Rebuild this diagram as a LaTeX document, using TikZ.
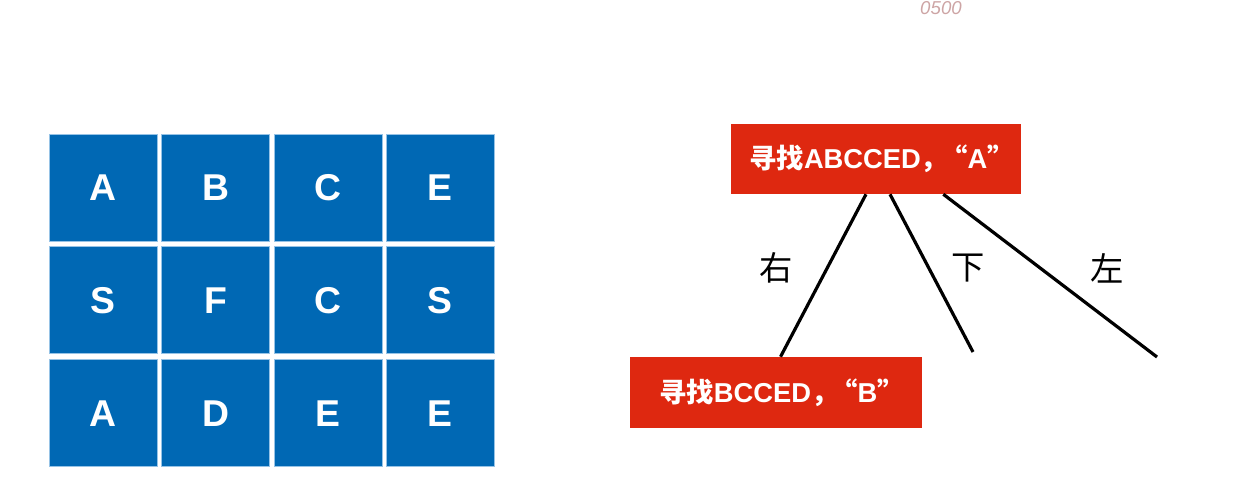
\documentclass[tikz,border=0pt]{standalone}
\usepackage{fontspec}
\setmainfont{Liberation Sans}
\newfontfamily\cjk{Noto Sans CJK SC}
\definecolor{cellblue}{RGB}{0,104,180}
\definecolor{celledge}{RGB}{150,195,230}
\definecolor{boxred}{RGB}{222,40,16}
\definecolor{faint}{RGB}{205,165,165}
\begin{document}
\begin{tikzpicture}[x=0.75pt,y=-0.75pt,
  cell/.style={fill=cellblue,draw=celledge,line width=0.6pt,minimum width=81pt,minimum height=80.25pt,inner sep=0pt,text=white,font=\bfseries\fontsize{28}{30}\selectfont},
  redbox/.style={fill=boxred,minimum height=53pt,inner sep=0pt,text=white,font=\bfseries\fontsize{20.5}{23}\selectfont},
  branch/.style={line width=2.4pt,black},
  dirlabel/.style={font=\cjk\fontsize{25}{27}\selectfont}]
\useasboundingbox (0,0) rectangle (1254,500);
% grid
\node[cell] (a11) at (103.3,188) {A};
\node[cell] (a12) at (215.5,188) {B};
\node[cell] (a13) at (328,188) {C};
\node[cell] (a14) at (440.3,188) {E};
\node[cell] (a21) at (103.3,300.2) {S};
\node[cell] (a22) at (215.5,300.2) {F};
\node[cell] (a23) at (328,300.2) {C};
\node[cell] (a24) at (440.3,300.2) {S};
\node[cell] (a31) at (103.3,413.3) {A};
\node[cell] (a32) at (215.5,413.3) {D};
\node[cell] (a33) at (328,413.3) {E};
\node[cell] (a34) at (440.3,413.3) {E};
% tree
\node[redbox,minimum width=217.5pt,minimum height=52.5pt] (top) at (876,159) {\hspace{9pt}{\cjk\bfseries 寻找}ABCCED{\cjk\bfseries ，}\hspace{-6pt}{\cjk\bfseries “}A{\cjk\bfseries ”}};
\node[redbox,minimum width=219pt,minimum height=53.25pt] (bot) at (776,392.5) {\hspace{9pt}{\cjk\bfseries 寻找}BCCED{\cjk\bfseries ，}\hspace{-6pt}{\cjk\bfseries “}B{\cjk\bfseries ”}};
\coordinate (e2) at (973,352);
\coordinate (e3) at (1157,357);
\draw[branch] ([xshift=-7.5pt]top.south) -- ([xshift=3.4pt]bot.north);
\draw[branch] ([xshift=10.5pt]top.south) -- (e2);
\draw[branch] ([xshift=50.5pt]top.south) -- (e3);
\node[dirlabel] (l1) at (776,268) {右};
\node[dirlabel] (l2) at (968,268) {下};
\node[dirlabel] (l3) at (1107,268) {左};
\node[text=faint,font=\itshape\fontsize{14}{16}\selectfont,inner sep=0pt] (wm) at (941,8) {0500};
\end{tikzpicture}
\end{document}
